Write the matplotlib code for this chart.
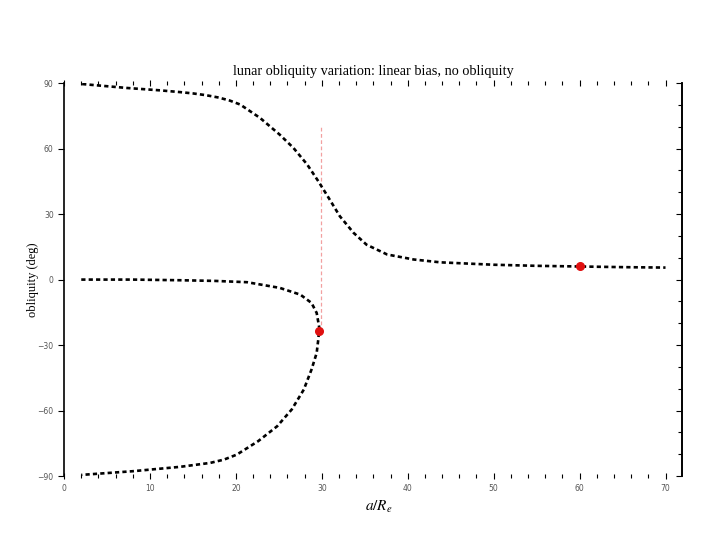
import matplotlib.pyplot as plt
from matplotlib.ticker import MultipleLocator

# upper Cassini branch
upper_a = [2.1, 7.3, 11.2, 13.5, 15.0, 16.5, 18.0, 19.3, 20.5, 22.8, 25.1, 26.7, 28.3, 29.6, 30.8, 32.1,
           33.7, 35.2, 37.6, 40.7, 43.8, 50, 55, 60, 65, 70]
upper_obl = [89.6, 87.8, 86.7, 85.9, 85.3, 84.5, 83.4, 82.0, 80.2, 74.1, 66.4, 60.3, 52.7, 45.0, 37.4, 29.0,
             21.4, 16.0, 11.5, 9.2, 7.9, 6.8, 6.3, 6.0, 5.7, 5.5]

# zero branch folding back into the lower branch
lower_a = [2, 8, 13.5, 17.5, 21.3, 25.1, 27.5, 28.8, 29.4, 29.7, 29.6, 29.4, 28.8, 27.9, 26.5, 24.8,
           22.6, 20.1, 18.6, 17.0, 13.5, 8, 2]
lower_obl = [0.0, 0.0, -0.3, -0.6, -1.2, -3.8, -6.9, -10.7, -15.3, -22.0, -27.0, -33.6, -41.2, -50.4,
             -59.5, -67.2, -74.0, -80.2, -82.5, -84.0, -85.8, -87.8, -89.5]

# stable states (red dots) and critical line
dot_a = [29.65, 60.1]
dot_obl = [-23.7, 6.0]
crit_a = 29.9
crit_obl = [-23.7, 71.0]

plt.rcParams['font.family'] = ['DejaVu Sans']
plt.rcParams['mathtext.fontset'] = 'stix'
fig = plt.figure(figsize=(7.2, 5.4), dpi=100)
ax = fig.add_axes([0.089, 0.1185, 0.858, 0.7275])

dash = (0, (1.6, 1.2))
ax.vlines(crit_a, crit_obl[0], crit_obl[1], colors='#f2a0a0', linestyles=(0, (3, 2)), lw=0.9)
ax.plot(upper_a, upper_obl, color='black', lw=1.9, linestyle=dash)
ax.plot(lower_a, lower_obl, color='black', lw=1.9, linestyle=dash)
ax.plot(dot_a, dot_obl, 'o', color='#e01010', ms=5.5, zorder=5)

ax.set_xlim(0, 71.9)
ax.set_ylim(-90, 90)
ax.xaxis.set_major_locator(MultipleLocator(10))
ax.xaxis.set_minor_locator(MultipleLocator(2))
ax.yaxis.set_major_locator(MultipleLocator(30))

ax.spines['top'].set_visible(False)
ax.spines['bottom'].set_visible(False)
ax.spines['left'].set_linewidth(1.2)
ax.spines['right'].set_linewidth(1.2)

ax.tick_params(axis='x', which='both', top=True, bottom=True, direction='inout', labelsize=5.5,
               labelcolor='#555555', width=0.8)
ax.tick_params(axis='x', which='major', length=5)
ax.tick_params(axis='x', which='minor', length=3)
ax.tick_params(axis='y', which='major', left=True, right=False, direction='out', length=4,
               labelsize=5.5, labelcolor='#555555', width=0.8)

# right side: inward ticks, no labels
rax = ax.twinx()
rax.set_ylim(-90, 90)
rax.yaxis.set_major_locator(MultipleLocator(30))
rax.yaxis.set_minor_locator(MultipleLocator(10))
rax.tick_params(axis='y', which='both', direction='in', labelright=False, width=0.8)
rax.tick_params(axis='y', which='major', length=4)
rax.tick_params(axis='y', which='minor', length=3)
for s in ['top', 'bottom', 'left']:
    rax.spines[s].set_visible(False)
rax.spines['right'].set_linewidth(1.2)

ax.set_title('lunar obliquity variation: linear bias, no obliquity', family='Liberation Serif',
             fontsize=10.3, pad=6)
ax.set_ylabel('obliquity (deg)', family='Liberation Serif', fontsize=9)
ax.yaxis.set_label_coords(-0.04, 0.5)
ax.set_xlabel(r'$a/R_e$', fontsize=11)
ax.xaxis.set_label_coords(0.51, -0.057)

plt.savefig('out.png', dpi=100)
